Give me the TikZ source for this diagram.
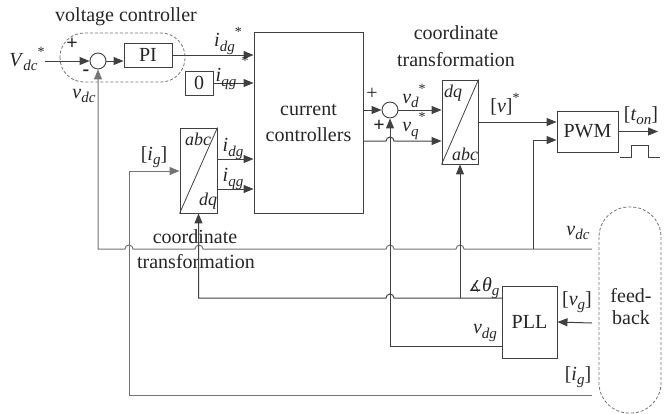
\documentclass[tikz,border=0pt]{standalone}
\usepackage{fontspec}
\setmainfont{Liberation Serif}
\newfontfamily\dejavu{DejaVu Sans}
\usetikzlibrary{arrows.meta,calc}
\newcommand{\subfnt}{\fontsize{15}{15}\selectfont\itshape}
\newcommand{\ssub}[2]{\textit{#1}\raisebox{-0.45ex}{\subfnt #2}}
\newcommand{\ssubs}[2]{\textit{#1}\raisebox{-0.45ex}{\subfnt #2}\raisebox{1.1ex}{\fontsize{14}{14}\selectfont *}}
\begin{document}
\begin{tikzpicture}[x=1pt,y=-1pt,
  font=\fontsize{20}{26}\selectfont, text=black!85,
  ln/.style={draw=black!75, line width=1pt},
  fb/.style={draw=black!55, line width=1pt},
  arr/.style={-{Triangle[length=10pt,width=8pt]}},
  blk/.style={draw=black!75, line width=0.9pt, inner sep=0pt},
  sumc/.style={circle, draw=black!75, line width=0.9pt, inner sep=0pt, minimum size=16pt},
  dbox/.style={draw=black!55, line width=0.8pt, dash pattern=on 3pt off 2pt},
  lbl/.style={inner sep=0pt},
  sml/.style={inner sep=0pt, font=\fontsize{18}{20}\selectfont\itshape}
]
\useasboundingbox (0,0) rectangle (668,413);

% text labels that lines pass over
\node[lbl] (ct1a) at (195,237) {coordinate};
\node[lbl] (ct1b) at (196,262) {transformation};
\node[lbl] (ct2a) at (456,33) {coordinate};
\node[lbl] (ct2b) at (456,60) {transformation};
\node[lbl] (vctl) at (126,17) {voltage controller};

% dashed groups
\draw[dbox, rounded corners=24pt] (60,33) rectangle (185,82);
\draw[dbox, rounded corners=30pt] (599,207) rectangle (661,413);
\node[lbl, align=center] (fbk) at (631,307) {feed-\\[-4pt]back};

% blocks
\node[sumc] (sum1) at (98,61) {};
\node[blk, minimum width=48pt, minimum height=24pt] (pi) at (148,55) {PI};
\node[blk, minimum width=28pt, minimum height=24pt] (zero) at (199,83) {0};
\node[blk, minimum width=109pt, minimum height=181pt, align=center] (cc) at (308.5,122.5) {current\\controllers};
\node[blk, minimum width=37pt, minimum height=85pt] (t1) at (198.5,170.5) {};
\draw[black!75, line width=0.8pt] (t1.south west) -- (t1.north east);
\node[sml] (t1a) at (198,139) {abc};
\node[sml] (t1b) at (208,201) {dq};
\node[sumc] (sum2) at (390,110) {};
\node[blk, minimum width=36pt, minimum height=84pt] (t2) at (460,122) {};
\draw[black!75, line width=0.8pt] (t2.south west) -- (t2.north east);
\node[sml] (t2a) at (453,93) {dq};
\node[sml] (t2b) at (465,154) {abc};
\node[blk, minimum width=61pt, minimum height=41pt] (pwm) at (587.5,131.5) {PWM};
\node[blk, minimum width=55pt, minimum height=72pt] (pll) at (529.5,322) {PLL};

% coordinates
\coordinate (vin) at (45,61);
\coordinate (fbv) at (592,249);
\coordinate (vb) at (533,249);
\coordinate (pwmin2) at (533,140);
\coordinate (igr) at (592,395);
\coordinate (igc) at (129,395);
\coordinate (igt) at (129,171);
\coordinate (idgy) at (0,159);
\coordinate (iqgy) at (0,189);
\coordinate (vqy) at (0,141);
\coordinate (thout) at (502,298);
\coordinate (thj) at (460,298);
\coordinate (vdgout) at (502,346);
\coordinate (vgr) at (592,323);
\coordinate (ton) at (658,131.5);

% voltage controller
\draw[ln,arr] (vin) -- (sum1.west);
\draw[ln,arr] (sum1.east) -- (sum1.east -| pi.west);
\draw[ln,arr] (pi.east) -- (pi.east -| cc.west);
\draw[ln,arr] (zero.east) -- (zero.east -| cc.west);

% abc/dq transformation 1
\draw[fb,arr] (igr) -- (igc) -- (igt) -- (igt -| t1.west);
\draw[ln,arr] (t1.east |- idgy) -- (cc.west |- idgy);
\draw[ln,arr] (t1.east |- iqgy) -- (cc.west |- iqgy);

% current controller outputs
\draw[ln,arr] (cc.east |- sum2) -- (sum2.west);
\draw[ln,arr] (cc.east |- vqy) -- (386,141) arc[start angle=180,end angle=0,radius=4pt] -- (t2.west |- vqy);
\draw[ln,arr] (sum2.east) -- (sum2.east -| t2.west);
\draw[ln,arr] (t2.east) -- (t2.east -| pwm.west);
\draw[ln,arr] (pwm.east) -- (ton);
\draw[ln] (620,157) -- (631,157) -- (631,145) -- (648,145) -- (648,157) -- (660,157);

% vdc feedback
\draw[fb,arr] (fbv) -- (464,249) arc[start angle=0,end angle=180,radius=4pt]
  -- (394,249) arc[start angle=0,end angle=180,radius=4pt]
  -- (203,249) arc[start angle=0,end angle=180,radius=4pt]
  -- (133,249) arc[start angle=0,end angle=180,radius=4pt]
  -- (sum1 |- fbv) -- (sum1.south);
\draw[ln,arr] (vb) -- (pwmin2) -- (pwmin2 -| pwm.west);

% PLL
\draw[ln,arr] (thout) -- (394,298) arc[start angle=0,end angle=180,radius=4pt]
  -- (t1.south |- thout) -- (t1.south);
\draw[ln,arr] (thj) -- (t2.south);
\draw[ln,arr] (vdgout) -- (sum2 |- vdgout) -- (sum2.south);
\draw[ln,arr] (vgr) -- (pll.east);

% labels
\node[lbl] (lvdc1) at (27,59) {\ssubs{V}{dc}};
\node[lbl] (lp1) at (72,44) {\textbf{+}};
\node[lbl] (lm1) at (86,73) {\textbf{-}};
\node[lbl] (lvdc2) at (84,96) {\ssub{v}{dc}};
\node[lbl] (lidgs) at (228,41) {\ssubs{i}{dg}};
\node[lbl] (lstar) at (245,61) {\fontsize{14}{14}\selectfont *};
\node[lbl] (liqgs) at (226,79) {\ssub{i}{qg}};
\node[lbl] (lig1) at (154,157) {[\ssub{i}{g}]};
\node[lbl] (lidg) at (233,149) {\ssub{i}{dg}};
\node[lbl] (liqg) at (233,179) {\ssub{i}{qg}};
\node[lbl] (lp2) at (372,94) {+};
\node[lbl] (lp3) at (379,126) {\textbf{+}};
\node[lbl] (lvd) at (414,96) {\ssubs{v}{d}};
\node[lbl] (lvq) at (414,126) {\ssubs{v}{q}};
\node[lbl] (lv) at (505,104) {[\textit{v}]\raisebox{1.1ex}{\fontsize{14}{14}\selectfont *}};
\node[lbl] (lton) at (641,116) {[\ssub{t}{on}]};
\node[lbl] (lvdc3) at (578,233) {\ssub{v}{dc}};
\node[lbl] (lth) at (484,288) {{\dejavu\fontsize{15}{15}\selectfont ∡}\ssub{θ}{g}};
\node[lbl] (lvg) at (577,302) {[\ssub{v}{g}]};
\node[lbl] (lvdg) at (485,333) {\ssub{v}{dg}};
\node[lbl] (lig2) at (578,377) {[\ssub{i}{g}]};
\end{tikzpicture}
\end{document}
